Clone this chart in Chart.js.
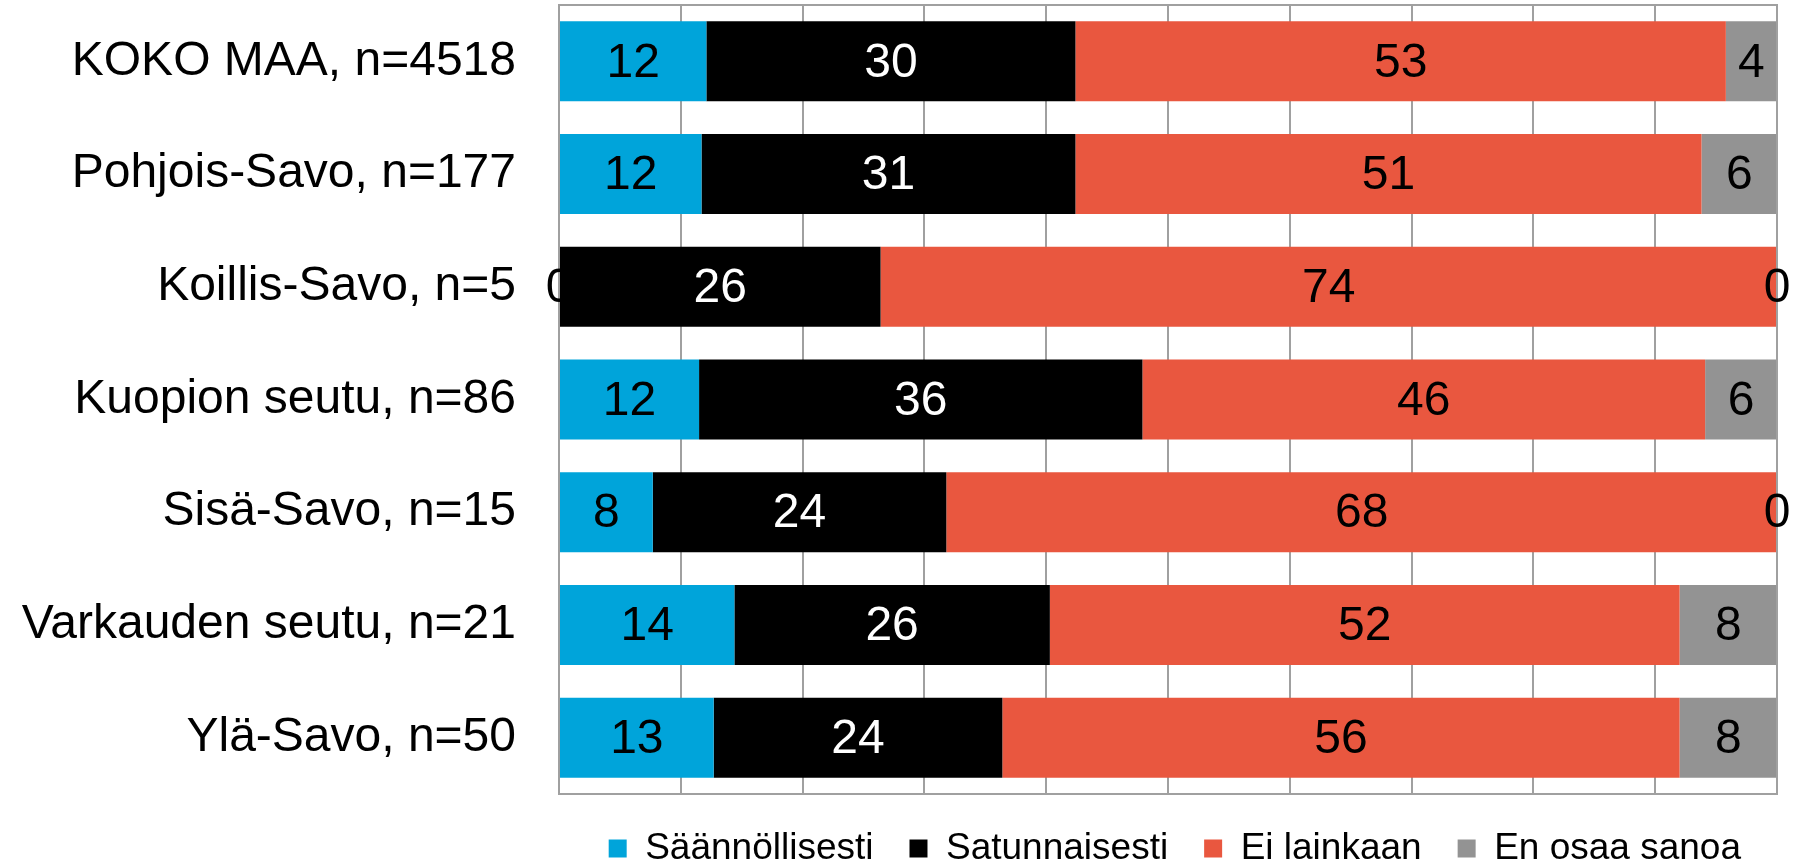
<!DOCTYPE html>
<html>
<head>
<meta charset="utf-8">
<script src="https://cdn.jsdelivr.net/npm/chart.js@4.4.1/dist/chart.umd.min.js"></script>
<style>
html, body { margin: 0; padding: 0; background: #fff; }
</style>
</head>
<body>
<canvas id="chart" width="1812" height="865"></canvas>
<script>
const categories = [
    "KOKO MAA, n=4518",
    "Pohjois-Savo, n=177",
    "Koillis-Savo, n=5",
    "Kuopion seutu, n=86",
    "Sisä-Savo, n=15",
    "Varkauden seutu, n=21",
    "Ylä-Savo, n=50"
];
const seriesNames = ["Säännöllisesti", "Satunnaisesti", "Ei lainkaan", "En osaa sanoa"];

// percentages (labels show them rounded)
const saannollisesti = [12.1, 11.7, 0, 11.5, 7.7, 14.4, 12.7];
const satunnaisesti = [30.3, 30.7, 26.4, 36.4, 24.1, 25.9, 23.7];
const eiLainkaan = [53.4, 51.4, 73.6, 46.2, 68.2, 51.7, 55.6];
const enOsaaSanoa = [4.2, 6.2, 0, 5.9, 0, 8.0, 8.0];

const seriesColors = ["#00A4DA", "#000000", "#E9573F", "#939393"];
const labelColors = ["#000000", "#ffffff", "#000000", "#000000"];

const FONT = '"Liberation Sans", Arial, sans-serif';
Chart.defaults.font.family = FONT;
Chart.defaults.color = "#000";

// box round the plot area
const plotBorder = {
    id: "plotBorder",
    afterDatasetsDraw(chart) {
        const a = chart.chartArea;
        const ctx = chart.ctx;
        ctx.save();
        ctx.strokeStyle = "#A0A0A0";
        ctx.lineWidth = 2;
        ctx.strokeRect(a.left, a.top, a.right - a.left, a.bottom - a.top);
        ctx.restore();
    }
};

// value labels in the middle of each segment; later segments cover them
const valueLabels = {
    id: "valueLabels",
    afterDatasetsDraw(chart) {
        const ctx = chart.ctx;
        const n = chart.data.datasets.length;
        ctx.save();
        ctx.font = "48px " + FONT;
        ctx.textAlign = "center";
        ctx.textBaseline = "middle";
        chart.data.datasets.forEach((ds, i) => {
            const meta = chart.getDatasetMeta(i);
            meta.data.forEach((bar, j) => {
                const cx = (bar.x + bar.base) / 2;
                ctx.save();
                ctx.beginPath();
                ctx.rect(0, 0, chart.width, chart.height);
                for (let k = i + 1; k < n; k++) {
                    const b = chart.getDatasetMeta(k).data[j];
                    const w = Math.abs(b.x - b.base);
                    if (w > 0.5) {
                        ctx.rect(Math.min(b.x, b.base), b.y - b.height / 2, w, b.height);
                    }
                }
                ctx.clip("evenodd");
                ctx.fillStyle = labelColors[i];
                ctx.fillText(String(Math.round(ds.data[j])), cx, bar.y + 2);
                ctx.restore();
            });
        });
        ctx.restore();
    }
};

const seriesData = [saannollisesti, satunnaisesti, eiLainkaan, enOsaaSanoa];

new Chart(document.getElementById("chart").getContext("2d"), {
    type: "bar",
    data: {
        labels: categories,
        datasets: seriesNames.map((name, i) => ({
            label: name,
            data: seriesData[i],
            backgroundColor: seriesColors[i],
            borderWidth: 0,
            categoryPercentage: 1,
            barPercentage: 0.71
        }))
    },
    options: {
        indexAxis: "y",
        responsive: false,
        animation: false,
        devicePixelRatio: 1,
        layout: {
            padding: { top: 5, right: 35, bottom: -12, left: 0 }
        },
        scales: {
            x: {
                stacked: true,
                min: 0,
                max: 100,
                ticks: { display: false, stepSize: 10 },
                grid: { color: "#A0A0A0", lineWidth: 2, drawTicks: false },
                border: { display: false }
            },
            y: {
                stacked: true,
                afterFit: function(scale) {
                    scale.width = 559;
                    scale.paddingTop = 0;
                    scale.paddingBottom = 0;
                },
                ticks: {
                    autoSkip: false,
                    padding: 43,
                    color: "#000",
                    font: { size: 48 }
                },
                grid: { display: false, drawTicks: false },
                border: { display: false }
            }
        },
        plugins: {
            legend: {
                position: "bottom",
                align: "end",
                labels: {
                    boxWidth: 18,
                    boxHeight: 18,
                    padding: 36,
                    color: "#000",
                    font: { size: 37 }
                }
            },
            tooltip: { enabled: false }
        }
    },
    plugins: [plotBorder, valueLabels]
});
</script>
</body>
</html>
